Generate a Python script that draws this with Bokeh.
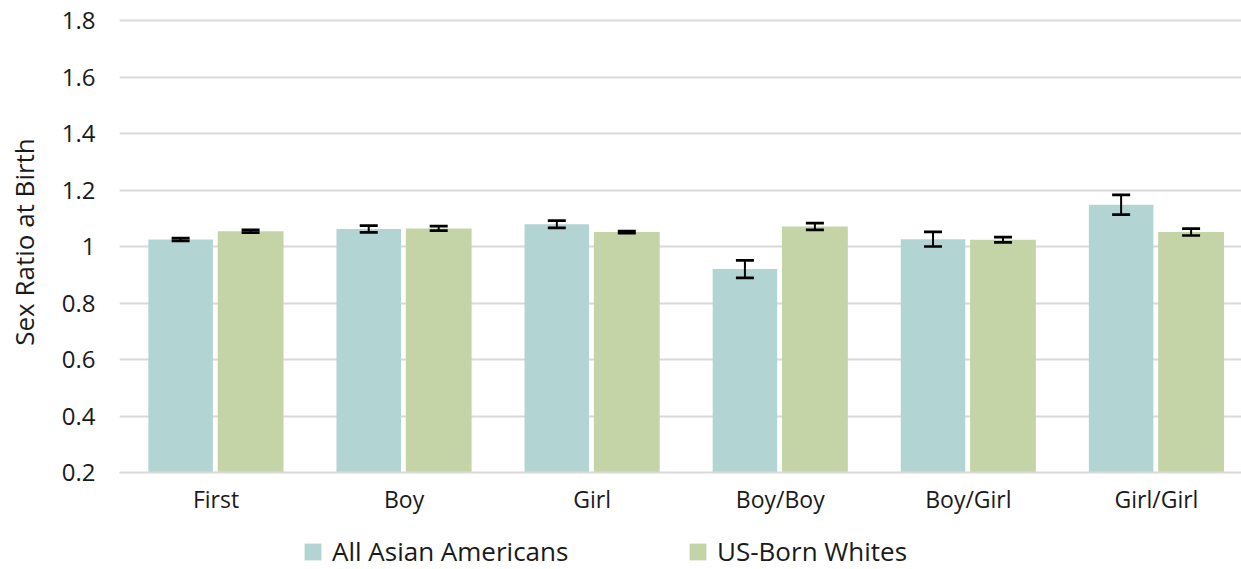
from bokeh.plotting import figure
from bokeh.layouts import column
from bokeh.models import (ColumnDataSource, FixedTicker, Whisker, Legend, LegendItem,
                          CustomJSTickFormatter, Range1d, TeeHead)
from bokeh.transform import dodge
from bokeh.embed import file_html
from bokeh.resources import INLINE

categories = ["First", "Boy", "Girl", "Boy/Boy", "Boy/Girl", "Girl/Girl"]
asian = [1.025, 1.062, 1.079, 0.92, 1.026, 1.148]
asian_err = [0.005, 0.012, 0.013, 0.031, 0.026, 0.035]
white = [1.054, 1.064, 1.051, 1.071, 1.024, 1.051]
white_err = [0.005, 0.008, 0.004, 0.012, 0.009, 0.012]
y_ticks = [0.2, 0.4, 0.6, 0.8, 1.0, 1.2, 1.4, 1.6, 1.8]
series_names = ["All Asian Americans", "US-Born Whites"]

ASIAN_COLOR = "#b2d5d4"
WHITE_COLOR = "#c5d4a6"
FONT = "Open Sans"
TEXT = "#1a1a1a"

xpos = list(range(len(categories)))
src = ColumnDataSource(dict(
    x=xpos,
    asian=asian,
    white=white,
    a_lo=[v - e for v, e in zip(asian, asian_err)],
    a_hi=[v + e for v, e in zip(asian, asian_err)],
    w_lo=[v - e for v, e in zip(white, white_err)],
    w_hi=[v + e for v, e in zip(white, white_err)],
))

p = figure(width=1241, height=517, output_backend="svg", toolbar_location=None,
           x_range=Range1d(-0.513, 5.452), y_range=Range1d(0.2, 1.832),
           min_border_left=119, min_border_right=0, min_border_top=11, min_border_bottom=45)
p.outline_line_color = None

r1 = p.vbar(x=dodge("x", -0.188), top="asian", bottom=0.2, width=0.343, source=src,
            fill_color=ASIAN_COLOR, line_color=None)
r2 = p.vbar(x=dodge("x", 0.184), top="white", bottom=0.2, width=0.35, source=src,
            fill_color=WHITE_COLOR, line_color=None)

for base, lo, hi in [(dodge("x", -0.188), "a_lo", "a_hi"), (dodge("x", 0.184), "w_lo", "w_hi")]:
    w = Whisker(base=base, lower=lo, upper=hi, source=src, line_color="black", line_width=2,
                level="annotation",
                upper_head=TeeHead(size=18, line_width=2.7, line_color="black"),
                lower_head=TeeHead(size=18, line_width=2.7, line_color="black"))
    p.add_layout(w)

# y axis
p.yaxis.ticker = FixedTicker(ticks=y_ticks)
p.yaxis.formatter = CustomJSTickFormatter(code="return (Math.round(tick*10)/10).toString();")
p.yaxis.axis_line_color = None
p.yaxis.major_tick_line_color = None
p.yaxis.minor_tick_line_color = None
p.yaxis.major_tick_out = 0
p.yaxis.major_tick_in = 0
p.yaxis.minor_tick_out = 0
p.yaxis.major_label_standoff = 24
p.yaxis.major_label_text_font = FONT
p.yaxis.major_label_text_font_size = "24px"
p.yaxis.major_label_text_color = TEXT
p.yaxis.axis_label = "Sex Ratio at Birth"
p.yaxis.axis_label_text_font = FONT
p.yaxis.axis_label_text_font_size = "26px"
p.yaxis.axis_label_text_font_style = "normal"
p.yaxis.axis_label_text_color = TEXT
p.yaxis.axis_label_standoff = 17

# x axis
p.xaxis.ticker = FixedTicker(ticks=xpos)
p.xaxis.major_label_overrides = {i: c for i, c in zip(xpos, categories)}
p.xaxis.axis_line_color = "#d9d9d9"
p.xaxis.axis_line_width = 2
p.xaxis.major_tick_line_color = None
p.xaxis.minor_tick_line_color = None
p.xaxis.major_tick_out = 0
p.xaxis.major_tick_in = 0
p.xaxis.minor_tick_out = 0
p.xaxis.major_label_standoff = 10
p.xaxis.major_label_text_font = FONT
p.xaxis.major_label_text_font_size = "23px"
p.xaxis.major_label_text_color = TEXT

p.xgrid.grid_line_color = None
p.ygrid.ticker = FixedTicker(ticks=y_ticks)
p.ygrid.grid_line_color = "#d9d9d9"
p.ygrid.grid_line_width = 2

# legend strip
p2 = figure(width=1241, height=52, output_backend="svg", toolbar_location=None,
            x_axis_type=None, y_axis_type=None, x_range=Range1d(0, 1), y_range=Range1d(0, 1),
            min_border_left=119, min_border_right=0, min_border_top=0, min_border_bottom=0)
p2.outline_line_color = None
p2.xgrid.grid_line_color = None
p2.ygrid.grid_line_color = None
# placeholder renderers (outside the visible range) that only provide legend swatches
lr1 = p2.vbar(x=[5], top=[5], bottom=[4], width=0.1, fill_color=ASIAN_COLOR, line_color=None)
lr2 = p2.vbar(x=[5], top=[5], bottom=[4], width=0.1, fill_color=WHITE_COLOR, line_color=None)

for name, rr, xloc in [(series_names[0], lr1, 183), (series_names[1], lr2, 568)]:
    lg = Legend(items=[LegendItem(label=name, renderers=[rr])], location=(xloc, 0))
    lg.label_text_font = FONT
    lg.label_text_font_size = "26px"
    lg.label_text_color = TEXT
    lg.glyph_width = 21
    lg.glyph_height = 21
    lg.label_standoff = 9
    lg.border_line_color = None
    lg.background_fill_alpha = 0
    lg.padding = 0
    lg.margin = 0
    p2.add_layout(lg)

layout = column(p, p2, spacing=0)
open("out.html", "w").write(file_html(layout, INLINE))
